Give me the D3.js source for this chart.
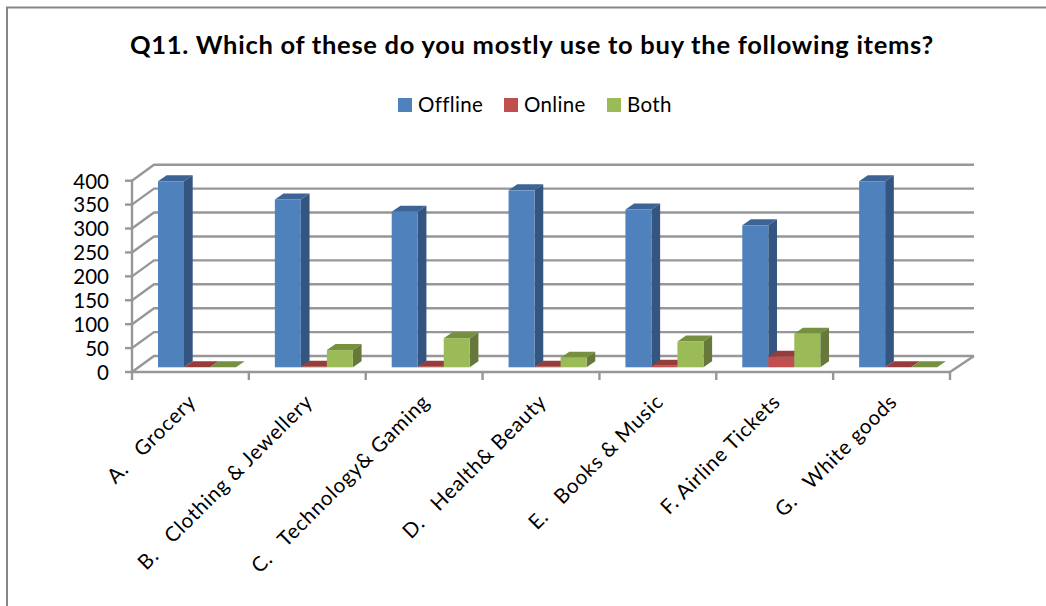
<!DOCTYPE html>
<html>
<head>
<meta charset="utf-8">
<script src="https://cdn.jsdelivr.net/npm/d3@7"></script>
<style>
  html, body { margin: 0; padding: 0; background: #fff; }
  svg { display: block; }
  text { font-family: Lato, "Open Sans", sans-serif; fill: #000; white-space: pre; }
</style>
</head>
<body>
<svg id="chart" width="1046" height="606"></svg>
<script>
const categories = ["A.   Grocery", "B.   Clothing & Jewellery", "C.   Technology& Gaming", "D.   Health& Beauty", "E.   Books & Music", "F. Airline Tickets", "G.   White goods"];
const seriesNames = ["Offline", "Online", "Both"];
const offline = [389, 351, 325, 370, 330, 297, 389];
const online = [0, 1, 1, 1, 3, 22, 0];
const both = [0, 36, 61, 20, 54, 70, 0];
const yTicks = [0, 50, 100, 150, 200, 250, 300, 350, 400];
const seriesValues = [offline, online, both];
const palette = [
  { front: "#4f81bd", side: "#34557f", top: "#3c6496" },
  { front: "#c0504d", side: "#823432", top: "#963c3a" },
  { front: "#9bbb59", side: "#66793a", top: "#76903f" }
];

const svg = d3.select("#chart");

// Oblique projection: the wall sits behind the floor by (depthX, -depthY).
const depthX = 22, depthY = 16;
const barDepthX = 8.7, barDepthY = 6;
const barInsetX = 26, barInsetY = 4.7;

const x0 = d3.scaleBand().domain(categories).range([132, 950]);
const xS = d3.scaleBand().domain(seriesNames).range([0, 78]);
const y = d3.scaleLinear().domain([0, 400]).range([372, 180.7]);

// Outer frame, open on the right-hand and bottom sides
svg.append("path")
  .attr("d", "M7,606V7.5H1046")
  .attr("fill", "none").attr("stroke", "#868686").attr("stroke-width", 2);

svg.append("text")
  .attr("x", 532).attr("y", 54).attr("text-anchor", "middle")
  .attr("font-size", 25.5).attr("font-weight", 700)
  .attr("letter-spacing", 0.72)
  .text("Q11. Which of these do you mostly use to buy the following items?");

// Legend
const legendX = [398, 504, 607];
const legend = svg.append("g");
seriesNames.forEach((name, i) => {
  legend.append("rect")
    .attr("x", legendX[i]).attr("y", 98).attr("width", 14).attr("height", 14)
    .attr("fill", palette[i].front);
  legend.append("text")
    .attr("x", legendX[i] + 20).attr("y", 112)
    .attr("font-size", 20.5).attr("letter-spacing", 0.35).text(name);
});

// Back wall gridlines, their slanted returns and the floor edge
const grid = svg.append("g").attr("fill", "none").attr("stroke", "#979797").attr("stroke-width", 2.4);
yTicks.forEach(t => {
  const yy = y(t);
  grid.append("path").attr("d", d3.line()([[132, yy], [132 + depthX, yy - depthY], [974, yy - depthY]]));
});
grid.append("path").attr("d", d3.line()([[950, y(0)], [974, y(0) - depthY]]));
grid.append("path").attr("d", d3.line()([[132, y(0)], [132, y(400)]]));
grid.append("path").attr("d", d3.line()([[132, y(0)], [950, y(0)]]));

// Axis ticks
yTicks.forEach(t => {
  grid.append("path").attr("d", d3.line()([[125, y(t)], [132, y(t)]]));
});
categories.concat(["end"]).forEach((c, i) => {
  const xx = i < categories.length ? x0(c) : 950;
  grid.append("path").attr("d", d3.line()([[xx, y(0)], [xx, y(0) + 8]]));
});

// Value labels
svg.append("g").selectAll("text").data(yTicks).join("text")
  .attr("x", 109).attr("y", d => y(d) + 7.8)
  .attr("text-anchor", "end").attr("font-size", 20.5)
  .text(d => d);

// Bars: top and side faces first, then the front
const bars = svg.append("g");
categories.forEach((cat, ci) => {
  seriesNames.forEach((name, si) => {
    const v = seriesValues[si][ci];
    const left = x0(cat) + xS(name) + barInsetX;
    const w = xS.bandwidth();
    const base = y(0) - barInsetY;
    const topY = y(v) - barInsetY;
    const c = palette[si];
    bars.append("polygon")
      .attr("points", [[left, topY], [left + barDepthX, topY - barDepthY], [left + w + barDepthX, topY - barDepthY], [left + w, topY]].join(" "))
      .attr("fill", c.top);
    bars.append("polygon")
      .attr("points", [[left + w, topY], [left + w + barDepthX, topY - barDepthY], [left + w + barDepthX, base - barDepthY], [left + w, base]].join(" "))
      .attr("fill", c.side);
    bars.append("rect")
      .attr("x", left).attr("y", topY).attr("width", w).attr("height", base - topY)
      .attr("fill", c.front);
  });
});

// Rotated category labels, each ending beneath its tick interval
svg.append("g").selectAll("text").data(categories).join("text")
  .attr("text-anchor", "end")
  .attr("font-size", 20.5)
  .attr("letter-spacing", 0.75)
  .attr("transform", d => `translate(${x0(d) + 55},${393}) rotate(-45)`)
  .attr("dy", "0.7em")
  .text(d => d);
</script>
</body>
</html>
